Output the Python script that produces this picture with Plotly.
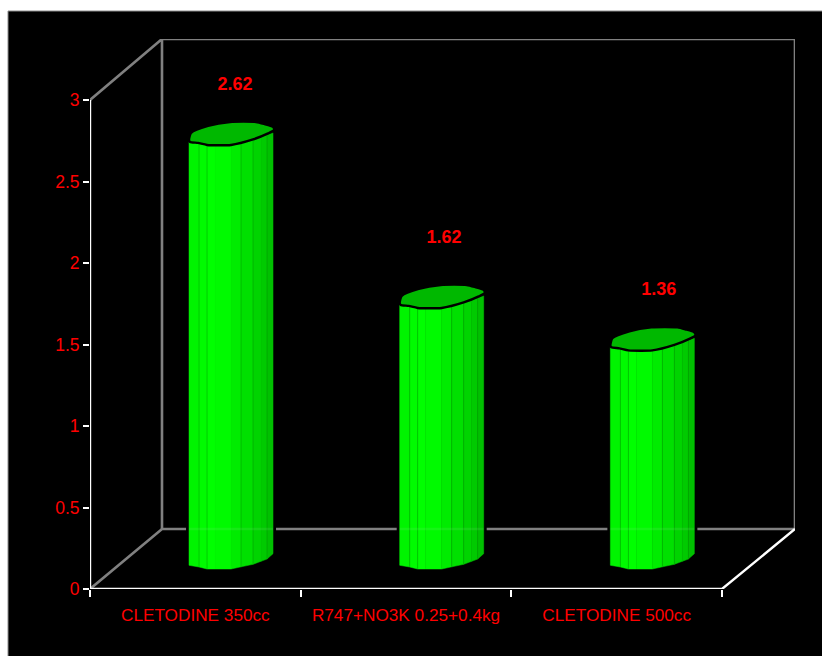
import plotly.graph_objects as go

categories = ["CLETODINE 350cc", "R747+NO3K 0.25+0.4kg", "CLETODINE 500cc"]
values = [2.62, 1.62, 1.36]
value_labels = ["2.62", "1.62", "1.36"]
y_ticks = [0, 0.5, 1, 1.5, 2, 2.5, 3]
y_tick_labels = ["0", "0.5", "1", "1.5", "2", "2.5", "3"]

W, H = 822, 656
L, R, T, B = 90, 795, 39, 589   # plot frame in page pixels
PX = (722 - 90) / 3             # px per category
PY = (589 - 100) / 3            # px per value unit
DX, DY = 73, 60                 # depth of the 3D box in px


def ux(px):
    return px / PX


def uy(px):
    return px / PY


x_min, x_max = -0.5, 2.5
x_back = x_min + ux(72)
box_w = x_max + ux(DX)
y_back = uy(DY)
y_top = 3 + uy(61)

GREY = "#808080"
WHITE = "#ffffff"

# profile of the column, px relative to its left edge and front line
BANDS = [0, 10, 18, 26, 42, 52, 64, 72, 78, 84]
COLS = ["#00f400", "#00fb00", "#00ff00", "#00fa00", "#00ec00",
        "#00e000", "#00d400", "#00ca00", "#00c000"]
DIVIDERS = [10, 18, 52, 64, 78]
TOP_EDGE = [(0, 3), (10, 2), (18, 0), (42, 0), (64, 5.5), (84, 12)]
BOT_EDGE = [(0, 3.7), (10, 2), (18, 0), (42, 0), (64, 4.7), (79, 10.3), (84, 15.3)]
TOP_FACE = [(0, 5), (2, 12), (19, 19), (41, 23), (67, 23), (75, 21), (84, 18),
            (85, 15), (79, 11.5), (64, 5.5), (42, 0), (18, 0), (9, 2), (1, 3)]
LEFT_FROM_CENTRE = -6.3
FRONT_LEVEL = uy(17)        # value-axis level of the column's origin
BOTTOM_LIFT = uy(3)


def lerp(edge, d):
    for (a, av), (b, bv) in zip(edge, edge[1:]):
        if a <= d <= b:
            return av + (bv - av) * (d - a) / (b - a)
    return edge[-1][1]


def poly(i, v, d0, d1):
    """Column band between px offsets d0 and d1 for category i with value v."""
    steps = sorted({d0, d1, *[p for p, _ in TOP_EDGE + BOT_EDGE if d0 < p < d1]})
    x0 = i + ux(LEFT_FROM_CENTRE)
    top = [(x0 + ux(d), FRONT_LEVEL + v + uy(lerp(TOP_EDGE, d))) for d in steps]
    bot = [(x0 + ux(d), FRONT_LEVEL + BOTTOM_LIFT + uy(lerp(BOT_EDGE, d))) for d in reversed(steps)]
    pts = top + bot + top[:1]
    return [p[0] for p in pts], [p[1] for p in pts]


fig = go.Figure()


def line(xs, ys, color, width):
    fig.add_trace(go.Scatter(x=xs, y=ys, mode="lines", cliponaxis=False,
                             line=dict(color=color, width=width),
                             hoverinfo="skip", showlegend=False))


# walls (grey)
line([x_min, x_back, x_back], [3, y_top, y_back], GREY, 2.6)
line([x_back, box_w, box_w], [y_top, y_top, y_back], GREY, 2.6)
line([x_min, x_back, box_w], [0, y_back, y_back], GREY, 2.6)

# floor and axes (white)
line([x_min, x_min], [0, 3], WHITE, 2.4)
line([x_min, x_max, box_w], [0, 0, y_back], WHITE, 2.4)

for i, v in enumerate(values):
    # black halo round the column
    xs, ys = poly(i, v, BANDS[0], BANDS[-1])
    fig.add_trace(go.Scatter(x=xs, y=ys, mode="lines", fill="toself", fillcolor="#000000",
                             line=dict(color="#000000", width=6), cliponaxis=False,
                             hoverinfo="skip", showlegend=False))
    for k, col in enumerate(COLS):
        xs, ys = poly(i, v, BANDS[k], BANDS[k + 1])
        fig.add_trace(go.Scatter(x=xs, y=ys, mode="lines", fill="toself", fillcolor=col,
                                 line=dict(color=col, width=0.5), cliponaxis=False,
                                 hoverinfo="skip", showlegend=False))
    x0 = i + ux(LEFT_FROM_CENTRE)
    for d in DIVIDERS:
        line([x0 + ux(d), x0 + ux(d)],
             [FRONT_LEVEL + BOTTOM_LIFT + uy(lerp(BOT_EDGE, d)), FRONT_LEVEL + v + uy(lerp(TOP_EDGE, d))],
             "rgba(0,150,0,0.55)", 0.8)
    # faint back-wall line showing through the column
    line([x0, x0 + ux(84)], [y_back, y_back], "rgba(170,220,170,0.12)", 2.4)
    xs = [x0 + ux(p[0]) for p in TOP_FACE + TOP_FACE[:1]]
    ys = [FRONT_LEVEL + v + uy(p[1]) for p in TOP_FACE + TOP_FACE[:1]]
    fig.add_trace(go.Scatter(x=xs, y=ys, mode="lines", fill="toself", fillcolor="#00b800",
                             line=dict(color="#000000", width=2.4, shape="spline", smoothing=0.6),
                             cliponaxis=False, hoverinfo="skip", showlegend=False))

# value labels above the columns
label_x = [ux(235 - 195.3), 1 + ux(444 - 406), 2 + ux(659 - 617)]
label_gap = [uy(59), uy(69), uy(60)]
fig.add_trace(go.Scatter(
    x=label_x,
    y=[FRONT_LEVEL + v + g for v, g in zip(values, label_gap)],
    mode="text", text=value_labels, textposition="middle center", cliponaxis=False,
    textfont=dict(family="Liberation Sans", size=18, color="#ff0000", weight="bold"),
    hoverinfo="skip", showlegend=False))

fig.update_layout(
    width=W, height=H,
    margin=dict(l=L, r=W - R, t=T, b=H - B, pad=0),
    paper_bgcolor="#ffffff", plot_bgcolor="rgba(0,0,0,0)",
    showlegend=False,
    font=dict(family="Liberation Sans", color="#ff0000", size=16),
    xaxis=dict(range=[x_min, box_w], showgrid=False, zeroline=False, showline=False,
               tickmode="array", tickvals=[0, 1, 2], ticktext=categories,
               ticks="", ticklen=0, tickfont=dict(size=17.2, color="#ff0000"),
               ticklabelstandoff=14,
               minor=dict(tickmode="array", tickvals=[-0.5, 0.5, 1.5, 2.5], ticks="outside",
                          ticklen=7, tickwidth=2.4, tickcolor=WHITE, showgrid=False)),
    yaxis=dict(range=[0, y_top], showgrid=False, zeroline=False, showline=False,
               tickmode="array", tickvals=y_ticks, ticktext=y_tick_labels,
               ticks="outside", ticklen=6, tickwidth=2.4, tickcolor=WHITE,
               tickfont=dict(size=17.5, color="#ff0000")),
    shapes=[dict(type="rect", layer="below", xref="paper", yref="paper",
                 x0=(8 - L) / (R - L), x1=(W + 5 - L) / (R - L),
                 y0=(B - (H + 5)) / (B - T), y1=(B - 11) / (B - T),
                 fillcolor="#000000", line=dict(color="#8c8c8c", width=1))],
)

fig.write_html("out.html", post_script="document.body.style.margin='0';",
               config={"displayModeBar": False})
